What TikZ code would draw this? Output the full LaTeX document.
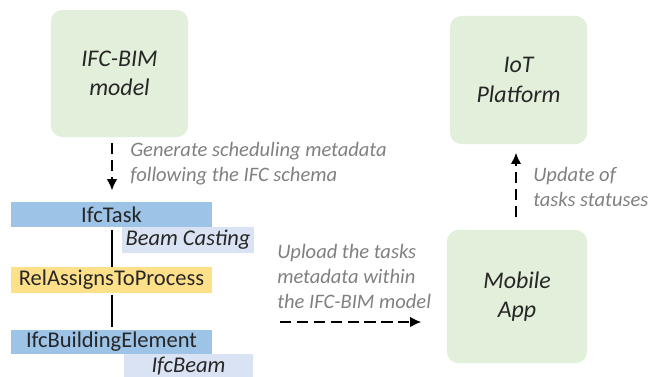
\documentclass[tikz,border=0pt]{standalone}
\usepackage{fontspec}
\setmainfont{Carlito}
\usetikzlibrary{positioning,arrows.meta}
\definecolor{boxgreen}{HTML}{E2EFDA}
\definecolor{barblue}{HTML}{9DC3E6}
\definecolor{barlav}{HTML}{DAE3F3}
\definecolor{baryellow}{HTML}{FFE08A}
\definecolor{notegray}{HTML}{808080}
\definecolor{textdark}{HTML}{262626}

\begin{document}
\begin{tikzpicture}[
        x=0.025cm, y=-0.025cm,
        every node/.style={text=textdark, font=\fontsize{16}{20}\selectfont},
        block/.style={rounded corners=8pt, fill=boxgreen, align=center, font=\fontsize{17}{21}\selectfont\itshape},
        bar/.style={fill=#1, inner sep=0pt, minimum width=5cm, minimum height=0.625cm},
        tag/.style={fill=barlav, inner sep=0pt, minimum width=3.275cm, minimum height=0.65cm, font=\fontsize{16}{20}\selectfont\itshape},
        note/.style={text=notegray, align=left, anchor=north west, inner sep=0pt, font=\fontsize{14.6}{17.8}\selectfont\itshape},
        dasharrow/.style={line width=1.3pt, dash pattern=on 8pt off 4pt, -{Latex[length=8pt, width=7.5pt]}},
        link/.style={line width=1.3pt}
    ]

    \useasboundingbox (0,0) rectangle (649,376);

    % green boxes
    \node[block, minimum width=3.425cm, minimum height=3.175cm] (bim) at (119.5,73.5) {IFC-BIM\\model};
    \node[block, minimum width=3.425cm, minimum height=3.2cm] (iot) at (518.5,80) {IoT\\Platform};
    \node[block, minimum width=3.5cm, minimum height=3.325cm] (app) at (517,296.5) {Mobile\\App};

    % IFC entities
    \node[bar=barblue] (task) at (111.5,214.5) {IfcTask};
    \node[tag] (cast) at (188,240) {Beam Casting};
    \node[bar=baryellow, minimum height=0.65cm] (rel) at (111.5,280) {RelAssignsToProcess};
    \node[bar=barblue, minimum height=0.6cm] (elem) at (111.5,342) {IfcBuildingElement};
    \node[tag, minimum width=3.225cm, minimum height=0.6cm] (beam) at (188.5,366) {IfcBeam};

    \draw[link, shorten <=2pt] (task.south -| 112,0) -- (rel.north -| 112,0);
    \draw[link, shorten <=1pt, shorten >=2pt] (rel.south -| 112,0) -- (elem.north -| 112,0);

    % notes
    \node[note] (gen) at (130,142) {Generate scheduling metadata\\following the IFC schema};
    \node[note] (upload) at (277,244) {Upload the tasks\\metadata within\\the IFC-BIM model};
    \node[note] (update) at (533,167) {Update of\\tasks statuses};

    % arrows
    \draw[dasharrow, shorten <=4pt, shorten >=8pt] (bim.south -| 112,0) -- (task.north -| 112,0);
    \coordinate (upstart) at (280,322);
    \draw[dasharrow, shorten >=18pt] (upstart) -- (upstart -| app.west);
    \draw[dasharrow, shorten <=9pt, shorten >=6pt] (app.north -| 516,0) -- (iot.south -| 516,0);
\end{tikzpicture}
\end{document}
